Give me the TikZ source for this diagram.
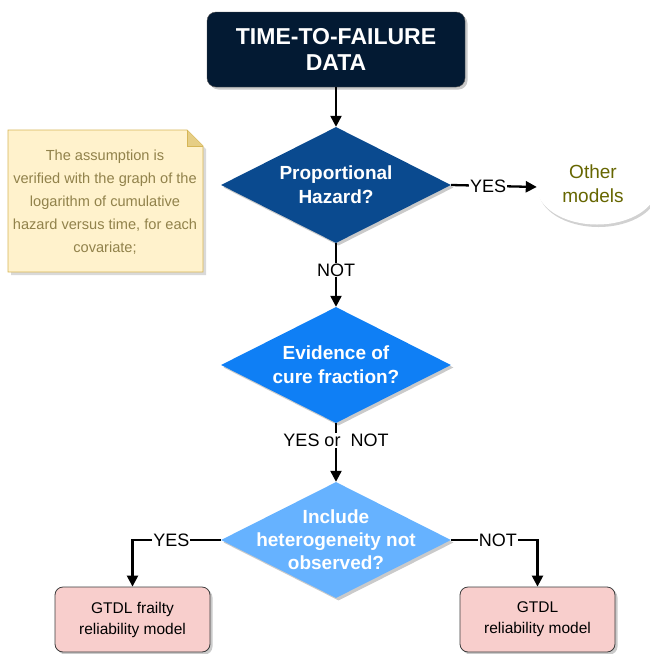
\documentclass[tikz,border=0pt]{standalone}
\usepackage{fontspec}
\setmainfont{Liberation Sans}
\usetikzlibrary{shapes.geometric,arrows.meta,shadows}
\definecolor{navy}{RGB}{3,26,51}
\definecolor{dblue}{RGB}{10,74,143}
\definecolor{mblue}{RGB}{15,127,245}
\definecolor{lblue}{RGB}{102,178,255}
\definecolor{notefill}{RGB}{255,242,204}
\definecolor{notedraw}{RGB}{214,182,86}
\definecolor{notetext}{RGB}{145,130,75}
\definecolor{olive}{RGB}{102,102,0}
\definecolor{pinkf}{RGB}{248,206,204}
\definecolor{boxd}{RGB}{60,60,60}
\tikzset{
  shad/.style={drop shadow={shadow xshift=2.5pt,shadow yshift=-2.5pt,fill=black!35,opacity=.6}},
  dia/.style={diamond,minimum width=230pt,minimum height=116pt,inner sep=0pt,shad},
  dtext/.style={align=center,text=white,font=\fontsize{19}{24}\selectfont\bfseries},
  arr/.style={line width=2.3pt,-{Triangle[length=11pt,width=11pt]}},
  lbl/.style={fill=white,inner sep=1pt,font=\fontsize{18}{20}\selectfont},
  gbox/.style={rounded corners=8pt,draw=boxd,line width=0.8pt,fill=pinkf,minimum width=155pt,minimum height=65pt,align=center,font=\fontsize{15.5}{21}\selectfont,shad},
}
\begin{document}
\begin{tikzpicture}[x=1pt,y=-1pt]
\useasboundingbox (0,0) rectangle (649,654);
% top box
\node[rounded corners=9pt,fill=navy,draw=black!70,minimum width=258pt,minimum height=75pt,align=center,text=white,
  font=\fontsize{23}{26}\selectfont\bfseries,shad] (top) at (336,49.5) {TIME-TO-FAILURE\\DATA};
% diamonds
\node[dia,fill=dblue] (d1) at (336,185) {};
\node[dtext] at (d1) {Proportional\\Hazard?};
\node[dia,fill=mblue] (d2) at (336,365) {};
\node[dtext] at (d2) {Evidence of\\cure fraction?};
\node[dia,fill=lblue] (d3) at (336,540) {};
\node[dtext,font=\fontsize{19}{23}\selectfont\bfseries] at (d3) {Include\\heterogeneity not\\observed?};
% ellipse
\node[ellipse,fill=white,minimum width=120pt,minimum height=75pt,
  drop shadow={shadow xshift=1.5pt,shadow yshift=-2.5pt,fill=black!30,opacity=.6}] (om) at (597,187) {};
\node[align=center,text=olive,font=\fontsize{19}{24}\selectfont] at (593,184) {Other\\models};
% note
\fill[black!25,opacity=.6] (11,133) -- (190,133) -- (206,149) -- (206,275) -- (11,275) -- cycle;
\draw[fill=notefill,draw=notedraw,line width=0.8pt] (8,130) -- (187,130) -- (203,146) -- (203,272) -- (8,272) -- cycle;
\draw[fill=notedraw!60!notefill,draw=notedraw,line width=0.8pt] (187,130) -- (187,146) -- (203,146);
\node[align=center,text=notetext,font=\fontsize{14.6}{23}\selectfont] (note) at (105,202)
  {The assumption is\\verified with the graph of the\\logarithm of cumulative\\hazard versus time, for each\\covariate;};
% boxes
\node[gbox] (b1) at (132.5,619.5) {GTDL frailty\\reliability model};
\node[gbox] (b2) at (537.5,619.5) {GTDL\\reliability model};
% connectors
\draw[arr] (top.south) -- (d1.north);
\draw[arr] (d1.east) -- node[lbl,pos=0.43]{YES} (om.west);
\draw[arr] (d1.south) -- node[lbl,pos=0.42]{NOT} (d2.north);
\draw[arr] (d2.south) -- node[lbl,pos=0.3]{YES or\ \ NOT} (d3.north);
\draw[arr] (d3.west) -| node[lbl,pos=0.28]{YES} (b1.north);
\draw[arr] (d3.east) -| node[lbl,pos=0.27]{NOT} (b2.north);
\end{tikzpicture}
\end{document}
